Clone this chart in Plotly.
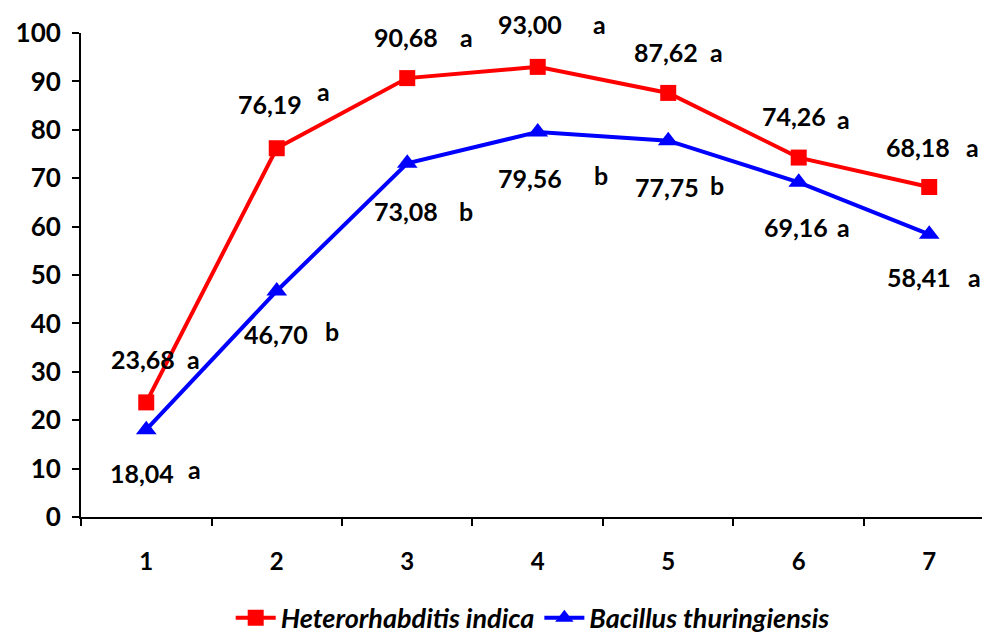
import plotly.graph_objects as go

categories = [1, 2, 3, 4, 5, 6, 7]
hi_values = [23.68, 76.19, 90.68, 93.00, 87.62, 74.26, 68.18]
hi_letters = ["a", "a", "a", "a", "a", "a", "a"]
bt_values = [18.04, 46.70, 73.08, 79.56, 77.75, 69.16, 58.41]
bt_letters = ["a", "b", "b", "b", "b", "a", "a"]
series_names = ["Heterorhabditis indica", "Bacillus thuringiensis"]
y_ticks = [0, 10, 20, 30, 40, 50, 60, 70, 80, 90, 100]

# label offsets in pixels (style only): (num_dx, num_dy, letter_dx, letter_dy)
hi_offsets = [(-3, 43, 47, 43), (-7, 44, 47, 57), (-1, 41, 59, 41), (-8, 43, 62, 43),
              (-2, 41, 48, 41), (-5, 42, 45, 39), (-11, 40, 43, 40)]
bt_offsets = [(-4, -43, 48, -39), (-1, -43, 55, -40), (-1, -48, 59, -48), (-8, -46, 63, -43),
              (-1, -46, 49, -44), (-3, -45, 45, -45), (-10, -43, 45, -43)]

FONT = "Lato"
fig = go.Figure()
fig.add_trace(go.Scatter(x=categories, y=hi_values, mode="lines+markers", name=series_names[0],
                         line=dict(color="#ff0000", width=4),
                         marker=dict(symbol="square", size=16, color="#ff0000"),
                         cliponaxis=False))
fig.add_trace(go.Scatter(x=categories, y=bt_values, mode="lines+markers", name=series_names[1],
                         line=dict(color="#0000ff", width=4),
                         marker=dict(symbol="triangle-up", size=18, color="#0000ff"),
                         cliponaxis=False))

def fmt(v):
    return f"{v:.2f}".replace(".", ",")

anns = []
for vals, lets, offs in [(hi_values, hi_letters, hi_offsets), (bt_values, bt_letters, bt_offsets)]:
    for c, v, l, o in zip(categories, vals, lets, offs):
        anns.append(dict(x=c, y=v, text=f"<b>{fmt(v)}</b>", showarrow=False,
                         xshift=o[0], yshift=o[1], xanchor="center", yanchor="middle",
                         font=dict(family=FONT, size=25, color="black")))
        anns.append(dict(x=c, y=v, text=f"<b>{l}</b>", showarrow=False,
                         xshift=o[2], yshift=o[3], xanchor="center", yanchor="middle",
                         font=dict(family=FONT, size=25, color="black")))

plot_w = 990 - 66 - 8
fig.update_layout(
    width=990, height=639,
    margin=dict(l=66, r=8, t=18, b=130),
    plot_bgcolor="white", paper_bgcolor="white",
    font=dict(family=FONT, size=22, color="black"),
    annotations=anns,
    showlegend=True,
    legend=dict(orientation="h", xref="container", yref="container", x=0.530, y=0.045,
                xanchor="center", yanchor="middle",
                font=dict(family=FONT, size=27, color="black", style="italic", weight="bold"),
                itemwidth=40, tracegroupgap=0),
    xaxis=dict(range=[0.5, 0.5 + plot_w / 131.5], tickmode="array", tickvals=categories,
               ticktext=[f"<b>{c}</b>" for c in categories],
               ticks="", showline=True, linecolor="black", linewidth=2, showgrid=False,
               zeroline=False, ticklabelstandoff=22,
               tickfont=dict(family=FONT, size=24, color="black"),
               minor=dict(tick0=0.5, dtick=1, ticks="outside", ticklen=7, tickwidth=2,
                          tickcolor="black", showgrid=False)),
    yaxis=dict(range=[0, 100], tickmode="array", tickvals=y_ticks,
               ticktext=[f"<b>{t}</b>" for t in y_ticks],
               ticks="outside", ticklen=7, tickwidth=2, tickcolor="black",
               showline=True, linecolor="black", linewidth=2, showgrid=False, zeroline=False,
               ticklabelstandoff=6,
               tickfont=dict(family=FONT, size=26, color="black")),
)
fig.write_html("out.html")
